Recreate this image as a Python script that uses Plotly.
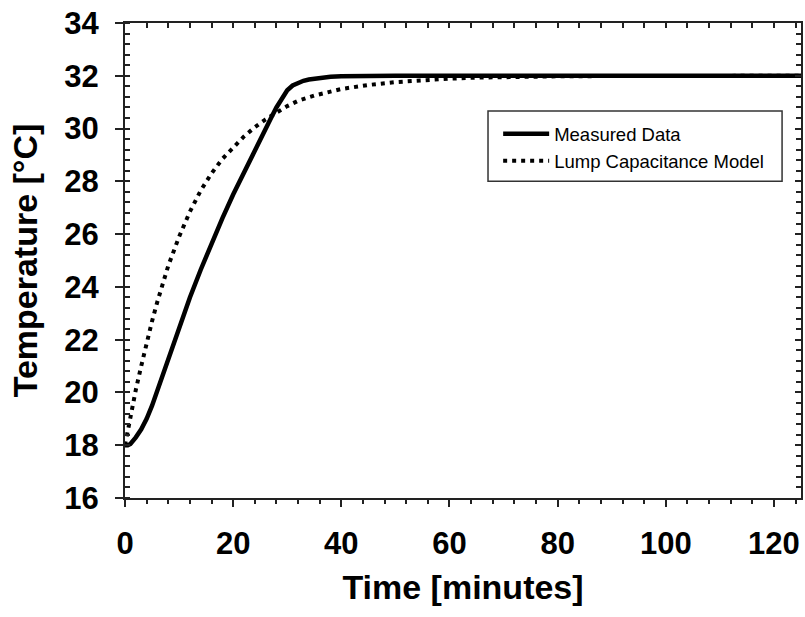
import plotly.graph_objects as go

time_measured = [0, 0.5, 1, 1.5, 2, 3, 4, 5, 6, 7, 8, 9, 10, 12, 14, 16, 18, 20, 22, 24, 26,
                 27, 28, 29, 30, 31, 32, 33, 34, 36, 38, 40, 45, 50, 60, 70, 80, 90, 100,
                 110, 120, 125]
temp_measured = [18.0, 18.0, 18.05, 18.15, 18.3, 18.6, 19.0, 19.5, 20.1, 20.65, 21.2, 21.8,
                 22.4, 23.6, 24.65, 25.65, 26.6, 27.5, 28.35, 29.2, 30.0, 30.4, 30.8, 31.15,
                 31.45, 31.63, 31.74, 31.81, 31.86, 31.92, 31.96, 31.98, 32.0, 32.0, 32.0,
                 32.0, 32.0, 32.0, 32.0, 32.0, 32.0, 32.0]

# Lump capacitance model
time_model = [0, 1, 2, 3, 4, 5, 6, 7, 8, 10, 12, 14, 16, 18, 20, 22, 24, 26, 28, 30, 32,
              35, 40, 45, 50, 55, 60, 65, 70, 80, 90, 100, 125]
temp_model = [18.0, 19.1, 20.1, 21.0, 21.9, 22.7, 23.45, 24.1, 24.8, 25.9, 26.85, 27.65,
              28.3, 28.85, 29.3, 29.7, 30.05, 30.35, 30.6, 30.85, 31.05, 31.25, 31.5,
              31.65, 31.76, 31.84, 31.89, 31.93, 31.95, 31.98, 31.99, 32.0, 32.0]

x_range = [0, 125]
y_range = [16, 34]

FONT = "Liberation Sans, Arial, sans-serif"

fig = go.Figure()
fig.add_trace(go.Scatter(x=time_measured, y=temp_measured, mode="lines",
                         name="Measured Data", line=dict(color="black", width=4.5)))
fig.add_trace(go.Scatter(x=time_model, y=temp_model, mode="lines",
                         name="Lump Capacitance Model",
                         line=dict(color="black", width=4, dash="4px,5px")))
# helper (empty) trace so the mirrored top/right axes are drawn
fig.add_trace(go.Scatter(x=[None], y=[None], xaxis="x2", yaxis="y2",
                         showlegend=False, hoverinfo="skip", mode="lines"))

axis_common = dict(showline=True, linecolor="#222", linewidth=2, showgrid=False,
                   zeroline=False, tickcolor="#222", tickwidth=2, automargin=False)

fig.update_layout(
    width=805, height=617,
    margin=dict(l=125, r=4, t=23, b=119),
    plot_bgcolor="white", paper_bgcolor="white",
    font=dict(family=FONT, color="black"),
    xaxis=dict(range=x_range, tick0=0, dtick=20, ticks="outside", ticklen=7,
               tickfont=dict(size=31, family=FONT, weight="bold"),
               ticklabelstandoff=10,
               minor=dict(dtick=4, ticks="outside", ticklen=4, tickcolor="#222", tickwidth=2),
               title=dict(text="<b>Time [minutes]</b>", font=dict(size=34, family=FONT),
                          standoff=15),
               **axis_common),
    xaxis2=dict(range=x_range, overlaying="x", side="top", anchor="y", matches="x",
                tick0=0, dtick=20, ticks="inside", ticklen=5, showticklabels=False,
                minor=dict(dtick=4, ticks="inside", ticklen=5, tickcolor="#222", tickwidth=2),
                **axis_common),
    yaxis=dict(range=y_range, tick0=16, dtick=2, ticks="outside", ticklen=8,
               tickfont=dict(size=31, family=FONT, weight="bold"),
               ticklabelstandoff=10,
               minor=dict(dtick=0.4, ticks="inside", ticklen=5, tickcolor="#222", tickwidth=2),
               title=dict(text="<b>Temperature [°C]</b>", font=dict(size=34, family=FONT),
                          standoff=16),
               **axis_common),
    yaxis2=dict(range=y_range, overlaying="y", side="right", anchor="x", matches="y",
                tick0=16, dtick=2, ticks="inside", ticklen=6, showticklabels=False,
                minor=dict(dtick=0.4, ticks="inside", ticklen=5, tickcolor="#222", tickwidth=2),
                **axis_common),
    legend=dict(x=0.552, y=0.806, xanchor="left", yanchor="top",
                borderwidth=0, bgcolor="rgba(0,0,0,0)",
                font=dict(size=18.5, family=FONT), tracegroupgap=0,
                itemwidth=46),
    showlegend=True,
    shapes=[dict(type="rect", xref="paper", yref="paper",
                 x0=0.537, x1=0.972, y0=0.667, y1=0.815,
                 line=dict(color="#333", width=1.5), layer="above")],
)

fig.write_html("out.html", config={"displayModeBar": False},
               post_script="document.body.style.margin='0';")
